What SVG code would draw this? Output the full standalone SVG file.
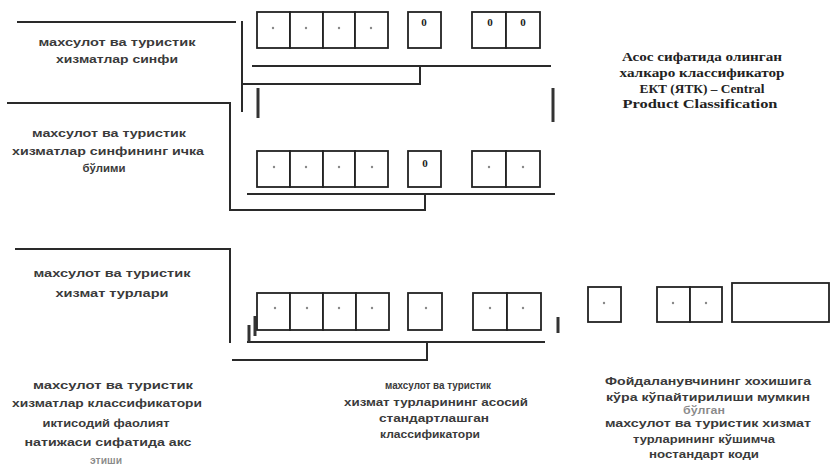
<svg xmlns="http://www.w3.org/2000/svg" width="831" height="465" viewBox="0 0 831 465">
<style>
.bg{fill:#fff}
.lbl{font-family:"Liberation Sans",Arial,sans-serif;font-size:11px;font-weight:bold;fill:#3a3a3a;text-anchor:middle}
.ser{font-family:"Liberation Serif","Times New Roman",serif;font-size:12px;font-weight:bold;fill:#222;text-anchor:middle}
.dig{font-family:"Liberation Serif","Times New Roman",serif;font-size:11px;font-weight:bold;fill:#222;text-anchor:middle}
.cell{fill:#fff;stroke:#222;stroke-width:1.8}
.dot{fill:#888}
.ln{stroke:#2a2a2a;stroke-width:2;fill:none}
.mk{stroke:#333;stroke-width:3;fill:none}
</style>
<rect class="bg" x="0" y="0" width="831" height="465"/>

<g id="connectors">
  <path class="ln" d="M17,22 H236"/>
  <path class="ln" d="M242,21 V112"/>
  <path class="ln" d="M242,84 H420 V66"/>
  <path class="ln" d="M252,66 H551"/>
  <path class="mk" d="M258,88 V118"/>
  <path class="mk" d="M553,88 V122"/>
  <path class="ln" d="M7,103 H230 V210 H425 V194"/>
  <path class="ln" d="M247,194 H555"/>
  <path class="ln" d="M15,249 H230 V343"/>
  <path class="ln" d="M232,360 H427 V342"/>
  <path class="ln" d="M247,342 H545"/>
  <path class="mk" d="M249,325 V342"/>
  <path class="mk" d="M255,316 V336"/>
  <path class="mk" d="M558,317 V333"/>
</g>

<g id="label-class">
  <text class="lbl" x="117" y="46" textLength="157" lengthAdjust="spacingAndGlyphs">махсулот ва туристик</text>
  <text class="lbl" x="117" y="63" textLength="122" lengthAdjust="spacingAndGlyphs">хизматлар синфи</text>
</g>

<g id="label-subclass">
  <text class="lbl" x="109" y="137" textLength="154" lengthAdjust="spacingAndGlyphs">махсулот ва туристик</text>
  <text class="lbl" x="108" y="155" textLength="192" lengthAdjust="spacingAndGlyphs">хизматлар синфининг ичка</text>
  <text class="lbl" x="104" y="172" textLength="43" lengthAdjust="spacingAndGlyphs">бўлими</text>
</g>

<g id="label-types">
  <text class="lbl" x="112" y="277" textLength="157" lengthAdjust="spacingAndGlyphs">махсулот ва туристик</text>
  <text class="lbl" x="112" y="297" textLength="113" lengthAdjust="spacingAndGlyphs">хизмат турлари</text>
</g>

<g id="label-reflect">
  <text class="lbl" x="113" y="389" textLength="160" lengthAdjust="spacingAndGlyphs">махсулот ва туристик</text>
  <text class="lbl" x="107" y="407" textLength="190" lengthAdjust="spacingAndGlyphs">хизматлар классификатори</text>
  <text class="lbl" x="106" y="427" textLength="127" lengthAdjust="spacingAndGlyphs">иктисодий фаолият</text>
  <text class="lbl" x="108" y="446" textLength="167" lengthAdjust="spacingAndGlyphs">натижаси сифатида акс</text>
  <text class="lbl" x="106" y="464" textLength="32" lengthAdjust="spacingAndGlyphs" fill-opacity="0.6">этиши</text>
</g>

<g id="label-basic">
  <text class="lbl" x="438" y="389" textLength="106" lengthAdjust="spacingAndGlyphs">махсулот ва туристик</text>
  <text class="lbl" x="436" y="406" textLength="184" lengthAdjust="spacingAndGlyphs">хизмат турларининг асосий</text>
  <text class="lbl" x="434" y="422" textLength="110" lengthAdjust="spacingAndGlyphs">стандартлашган</text>
  <text class="lbl" x="430" y="438" textLength="100" lengthAdjust="spacingAndGlyphs">классификатори</text>
</g>

<g id="label-international">
  <text class="ser" x="702" y="61" textLength="160" lengthAdjust="spacingAndGlyphs">Асос сифатида олинган</text>
  <text class="ser" x="702" y="77" textLength="165" lengthAdjust="spacingAndGlyphs">халкаро классификатор</text>
  <text class="ser" x="702" y="93" textLength="125" lengthAdjust="spacingAndGlyphs">ЕКТ (ЯТК) – Central</text>
  <text class="ser" x="700" y="108" textLength="155" lengthAdjust="spacingAndGlyphs">Product Classification</text>
</g>

<g id="label-user">
  <text class="lbl" x="708" y="385" textLength="206" lengthAdjust="spacingAndGlyphs">Фойдаланувчининг хохишига</text>
  <text class="lbl" x="708" y="401" textLength="204" lengthAdjust="spacingAndGlyphs">кўра кўпайтирилиши мумкин</text>
  <text class="lbl" x="704" y="414" textLength="42" lengthAdjust="spacingAndGlyphs" fill-opacity="0.6">бўлган</text>
  <text class="lbl" x="708" y="427" textLength="206" lengthAdjust="spacingAndGlyphs">махсулот ва туристик хизмат</text>
  <text class="lbl" x="704" y="443" textLength="142" lengthAdjust="spacingAndGlyphs">турларининг кўшимча</text>
  <text class="lbl" x="704" y="458" textLength="110" lengthAdjust="spacingAndGlyphs">ностандарт коди</text>
</g>

<g id="code-row-1">
  <rect class="cell" x="257" y="12" width="33" height="36"/>
  <rect class="cell" x="290" y="12" width="33" height="36"/>
  <rect class="cell" x="323" y="12" width="32" height="36"/>
  <rect class="cell" x="355" y="12" width="33" height="36"/>
  <rect class="cell" x="408" y="12" width="33" height="36"/>
  <rect class="cell" x="472" y="12" width="34" height="36"/>
  <rect class="cell" x="506" y="12" width="34" height="36"/>
  <circle class="dot" cx="273" cy="28" r="1.2"/>
  <circle class="dot" cx="306" cy="28" r="1.2"/>
  <circle class="dot" cx="339" cy="28" r="1.2"/>
  <circle class="dot" cx="371" cy="28" r="1.2"/>
  <text class="dig" x="424" y="26">0</text>
  <text class="dig" x="490" y="26">0</text>
  <text class="dig" x="523" y="26">0</text>
</g>

<g id="code-row-2">
  <rect class="cell" x="257" y="151" width="33" height="36"/>
  <rect class="cell" x="290" y="151" width="33" height="36"/>
  <rect class="cell" x="323" y="151" width="32" height="36"/>
  <rect class="cell" x="355" y="151" width="33" height="36"/>
  <rect class="cell" x="408" y="151" width="33" height="36"/>
  <rect class="cell" x="472" y="151" width="34" height="36"/>
  <rect class="cell" x="506" y="151" width="34" height="36"/>
  <circle class="dot" cx="274" cy="167" r="1.2"/>
  <circle class="dot" cx="306" cy="167" r="1.2"/>
  <circle class="dot" cx="339" cy="167" r="1.2"/>
  <circle class="dot" cx="372" cy="167" r="1.2"/>
  <text class="dig" x="425" y="167">0</text>
  <circle class="dot" cx="489" cy="167" r="1.2"/>
  <circle class="dot" cx="523" cy="167" r="1.2"/>
</g>

<g id="code-row-3">
  <rect class="cell" x="257" y="293" width="33" height="37"/>
  <rect class="cell" x="290" y="293" width="33" height="37"/>
  <rect class="cell" x="323" y="293" width="33" height="37"/>
  <rect class="cell" x="356" y="293" width="33" height="37"/>
  <rect class="cell" x="408" y="293" width="34" height="37"/>
  <rect class="cell" x="473" y="293" width="34" height="37"/>
  <rect class="cell" x="507" y="293" width="34" height="37"/>
  <circle class="dot" cx="275" cy="308" r="1.2"/>
  <circle class="dot" cx="307" cy="308" r="1.2"/>
  <circle class="dot" cx="339" cy="308" r="1.2"/>
  <circle class="dot" cx="372" cy="308" r="1.2"/>
  <circle class="dot" cx="426" cy="308" r="1.2"/>
  <circle class="dot" cx="490" cy="308" r="1.2"/>
  <circle class="dot" cx="523" cy="308" r="1.2"/>
</g>

<g id="code-extra">
  <rect class="cell" x="588" y="287" width="33" height="35"/>
  <rect class="cell" x="657" y="287" width="33" height="35"/>
  <rect class="cell" x="690" y="287" width="32" height="35"/>
  <rect class="cell" x="732" y="283" width="97" height="39"/>
  <circle class="dot" cx="604" cy="303" r="1.2"/>
  <circle class="dot" cx="673" cy="303" r="1.2"/>
  <circle class="dot" cx="706" cy="303" r="1.2"/>
</g>
</svg>
